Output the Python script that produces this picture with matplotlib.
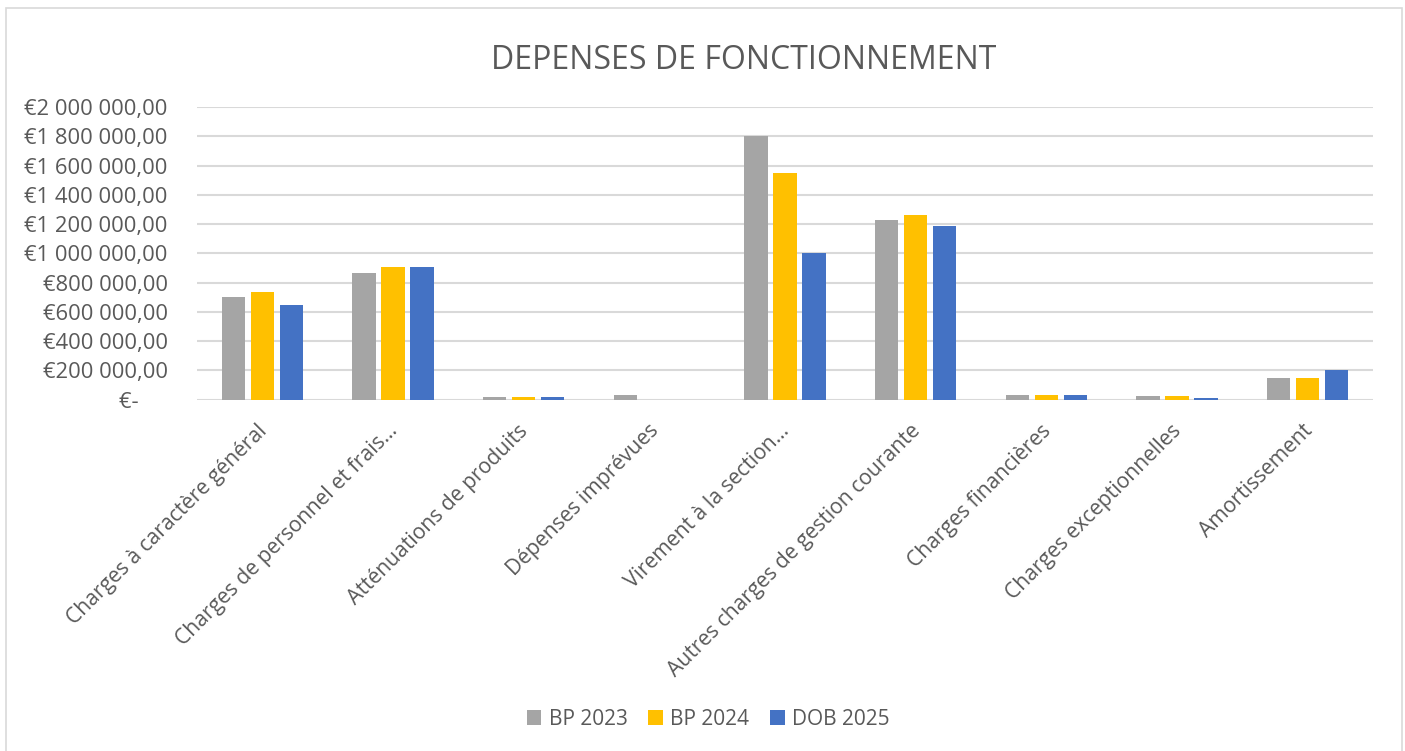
import matplotlib.pyplot as plt
import matplotlib.transforms as mtransforms
import numpy as np
from matplotlib.patches import Rectangle

plt.rcParams['font.family'] = ['Open Sans', 'DejaVu Sans']

categories = [
    "Charges à caractère général",
    "Charges de personnel et frais…",
    "Atténuations de produits",
    "Dépenses imprévues",
    "Virement à la section…",
    "Autres charges de gestion courante",
    "Charges financières",
    "Charges exceptionnelles",
    "Amortissement",
]
bp_2023 = [700000, 862000, 17000, 30000, 1800000, 1225000, 33000, 26000, 147000]
bp_2024 = [735000, 909000, 17000, 0, 1551000, 1262000, 33000, 26000, 147000]
dob_2025 = [643000, 909000, 17000, 0, 1000000, 1186000, 33000, 12000, 200000]
series_names = ["BP 2023", "BP 2024", "DOB 2025"]
colors = ["#A5A5A5", "#FFC000", "#4472C4"]
text_col = "#595959"


def euro(v):
    if v == 0:
        return "€-     "
    s = f"{v:,.2f}".replace(",", " ").replace(".", ",")
    return "€" + s


fig = plt.figure(figsize=(14.05, 7.51), dpi=100)
ax = fig.add_axes([0.1402, 0.468, 0.837, 0.3895])

x = np.arange(len(categories))
step = 0.222
for i, (vals, name, c) in enumerate(zip([bp_2023, bp_2024, dob_2025], series_names, colors)):
    ax.bar(x + (i - 1) * step, vals, width=0.18, color=c, label=name, zorder=3)

ax.set_xlim(-0.5, len(categories) - 0.5)
ax.set_ylim(0, 2000000)
yt = np.arange(0, 2000001, 200000)
ax.set_yticks(yt)
ax.set_yticklabels([euro(v) for v in yt])
ax.yaxis.grid(True, color="#D9D9D9", linewidth=1.5, zorder=0)
for s in ax.spines.values():
    s.set_visible(False)
ax.tick_params(axis='y', length=0, pad=21, labelsize=15.8, labelcolor=text_col)
ax.tick_params(axis='x', length=0, pad=15, labelsize=15.2, labelcolor=text_col)
ax.set_xticks(x)
ax.set_xticklabels(categories, rotation=45, ha='right', rotation_mode='anchor')
# petit décalage vers la gauche des étiquettes
shift = mtransforms.ScaledTranslation(-6 / 100, 0, fig.dpi_scale_trans)
for lab in ax.get_xticklabels():
    lab.set_transform(lab.get_transform() + shift)

fig.text(0.5295, 0.92, "DEPENSES DE FONCTIONNEMENT", ha='center', va='center',
         fontsize=23, color=text_col)

leg = fig.legend(loc='center', bbox_to_anchor=(0.504, 0.042), ncol=3, frameon=False,
                 fontsize=15, handlelength=0.7, handleheight=0.7, columnspacing=1.0,
                 handletextpad=0.35)
for t in leg.get_texts():
    t.set_color(text_col)

fig.patches.append(Rectangle((6 / 1405, -0.01), 1396 / 1405, 1 - 8 / 751 + 0.01,
                             transform=fig.transFigure, fill=False,
                             edgecolor="#D9D9D9", linewidth=1.2))

fig.savefig("out.png", dpi=100)
